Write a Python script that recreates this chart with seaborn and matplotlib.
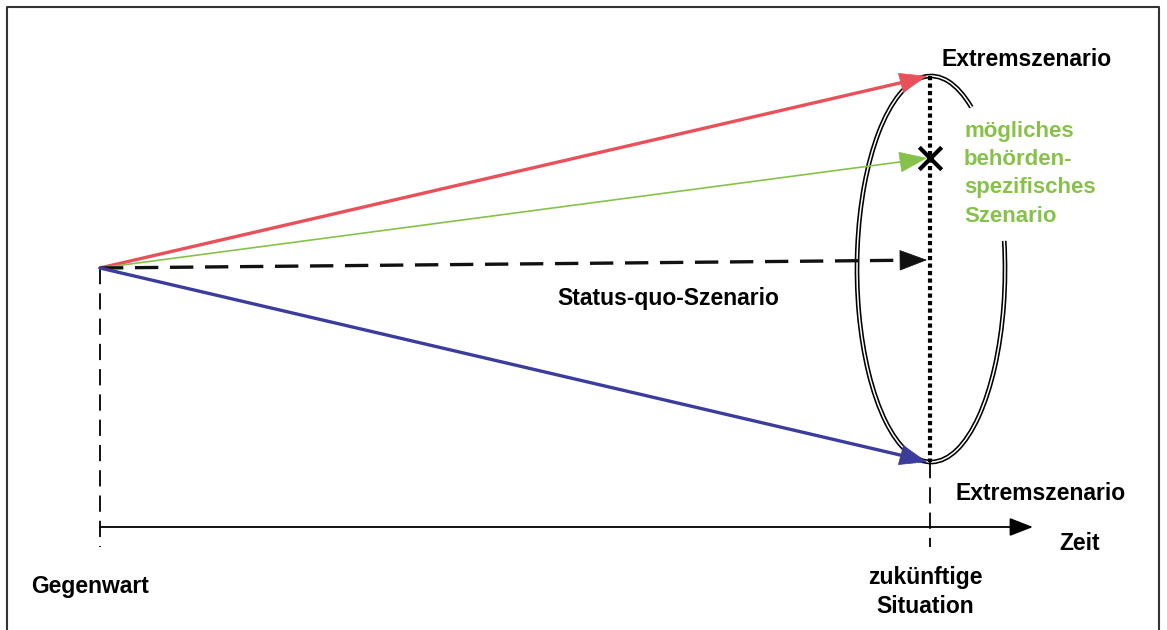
import numpy as np
import seaborn as sns
import matplotlib.pyplot as plt
from matplotlib.patches import Arc

sns.set_style('white')
plt.rcParams['font.family'] = ['Liberation Sans', 'DejaVu Sans']
plt.rcParams['text.color'] = 'black'

# Zeitachse: Gegenwart -> zukünftige Situation (Bildkoordinaten)
zeit_x = [100, 930]
zeit_labels = ['Gegenwart', 'zukünftige\nSituation']
start_y = 268

# Szenarien: Endpunkt (Höhe) bei der zukünftigen Situation
szenarien = ['Extremszenario oben', 'behördenspezifisch', 'Status quo', 'Extremszenario unten']
end_y = [76, 158, 260, 462]
farben = ['#e8505a', '#86c24a', '#111111', '#3b3c9c']
breiten = [2.4, 1.2, 2.4, 2.4]
stile = ['-', '-', (0, (7, 3.5)), '-']

# Szenario-Trichter (Ellipse)
ell_center = (931, 269)
ell_size = (148, 386)

fig = plt.figure(figsize=(11.67, 6.3), dpi=100)
ax = fig.add_axes([0, 0, 1, 1])
ax.set_xlim(0, 1167)
ax.set_ylim(630, 0)
ax.axis('off')

# Rahmen
ax.plot([7, 7, 1159, 1159], [630, 7, 7, 630], color='#333333', lw=1.5)

# Ellipse mit Doppellinie und Lücke rechts oben (Winkel als Polarwinkel)
for c, w in [('black', 3.4), ('white', 1.1)]:
    ax.add_patch(Arc(ell_center, *ell_size, theta1=-21, theta2=284, color=c, lw=w, zorder=2))

# gepunktete Linie der zukünftigen Situation
ax.plot([zeit_x[1], zeit_x[1]], [end_y[0], end_y[-1]], color='black', lw=3,
        linestyle=(0, (1, 0.8)), zorder=3)

# Szenario-Pfeile
for y1, c, w, ls in zip(end_y, farben, breiten, stile):
    x0, x1 = zeit_x
    ax.plot([x0, x0 + (x1 - x0) * 0.985], [start_y, start_y + (y1 - start_y) * 0.985],
            color=c, lw=w, linestyle=ls, zorder=4)
    ax.annotate('', xy=(x1 - 3, y1), xytext=(x0 + (x1 - x0) * 0.97, start_y + (y1 - start_y) * 0.97),
                arrowprops=dict(arrowstyle='-|>,head_length=0.85,head_width=0.32',
                                color=c, lw=0.5, mutation_scale=22, shrinkA=0, shrinkB=0),
                zorder=5)

# Kreuz für behördenspezifisches Szenario
sns.scatterplot(x=[zeit_x[1]], y=[end_y[1]], marker='x', s=260, color='black',
                linewidth=3, ax=ax, zorder=6, legend=False)

# senkrechte gestrichelte Linien
ax.plot([zeit_x[0], zeit_x[0]], [start_y, 547], color='black', lw=1.3,
        linestyle=(0, (9, 5)), zorder=3)
ax.plot([zeit_x[1], zeit_x[1]], [end_y[-1], 547], color='black', lw=1.3,
        linestyle=(0, (9, 5)), zorder=3)

# Zeitachse
ax.annotate('', xy=(1033, 527), xytext=(zeit_x[0], 527),
            arrowprops=dict(arrowstyle='-|>,head_length=0.9,head_width=0.35',
                            color='black', lw=1.3, mutation_scale=16, shrinkA=0, shrinkB=0))

# Beschriftungen
fs = 16.5
ax.text(1027, 60, 'Extremszenario', fontsize=fs, fontweight='bold', ha='center', va='center')
ax.text(1041, 494, 'Extremszenario', fontsize=fs, fontweight='bold', ha='center', va='center')
ax.text(668, 299, 'Status-quo-Szenario', fontsize=fs, fontweight='bold', ha='center', va='center')
ax.text(1080, 543, 'Zeit', fontsize=fs, fontweight='bold', ha='center', va='center')
ax.text(964, 121, 'mögliches\nbehörden-\nspezifisches\nSzenario', fontsize=16, fontweight='bold',
        color='#86c24a', ha='left', va='top', linespacing=1.45)
ax.text(90, 587, zeit_labels[0], fontsize=fs, fontweight='bold', ha='center', va='center')
ax.text(925, 592, zeit_labels[1], fontsize=fs, fontweight='bold', ha='center', va='center',
        linespacing=1.3)

plt.savefig('out.png', dpi=100)
